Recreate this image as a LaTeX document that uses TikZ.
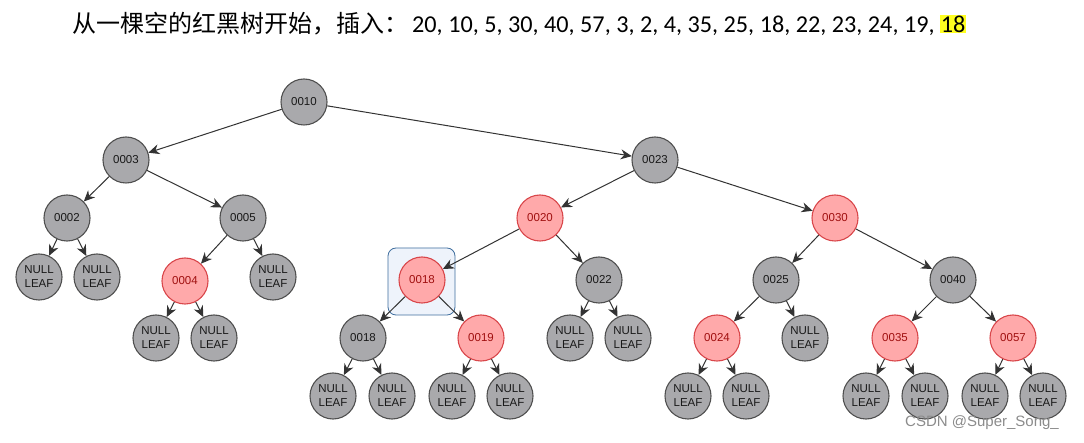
\documentclass[tikz,border=0pt]{standalone}
\usepackage{fontspec}
\setmainfont{Liberation Sans}
\newfontfamily\cjk{Noto Sans CJK SC}
\newfontfamily\numfont{Carlito}
\usetikzlibrary{arrows.meta}
\definecolor{gfill}{HTML}{A9A9AC}
\definecolor{gdraw}{HTML}{505050}
\definecolor{rfill}{HTML}{FFA9AA}
\definecolor{rdraw}{HTML}{D9474B}
\definecolor{rtext}{HTML}{A01010}
\definecolor{hlfill}{HTML}{EEF3FB}
\definecolor{hldraw}{HTML}{3F6E9E}
\definecolor{hlyel}{HTML}{FFFF20}
\begin{document}
\begin{tikzpicture}[x=1pt,y=-1pt,
  bnode/.style={circle,draw=gdraw,fill=gfill,line width=1.1pt,minimum size=46pt,inner sep=0pt,font=\fontsize{11.5}{13}\selectfont,text=black!90},
  rnode/.style={bnode,draw=rdraw,fill=rfill,text=rtext},
  leaf/.style={bnode,align=center,font=\fontsize{11.5}{14}\selectfont},
  edge/.style={draw=black!80,line width=1pt,-{Stealth[length=11pt,width=10pt]}}]
\useasboundingbox (0,0) rectangle (1084,443);
\fill[white] (0,0) rectangle (1084,443);
% title
\node[anchor=west,inner sep=0pt,font=\fontsize{24}{27}\selectfont\cjk] (t1) at (72,24) {从一棵空的红黑树开始，插入：};
\node[anchor=west,inner sep=0pt,font=\fontsize{24.2}{27}\selectfont\numfont] (t2) at (412,25) {20, 10, 5, 30, 40, 57, 3, 2, 4, 35, 25, 18, 22, 23, 24, 19, {\setlength{\fboxsep}{1pt}\colorbox{hlyel}{18}}};
% highlight box
\draw[hldraw,fill=hlfill,line width=0.8pt,rounded corners=8pt] (388,248) rectangle (455,315);
% nodes
\node[bnode] (n10) at (304,102) {0010};
\node[bnode] (n3) at (126,160) {0003};
\node[bnode] (n23) at (655,160) {0023};
\node[bnode] (n2) at (67,218) {0002};
\node[bnode] (n5) at (243,218) {0005};
\node[rnode] (n20) at (540,218) {0020};
\node[rnode] (n30) at (835,218) {0030};
\node[leaf] (l1) at (39,277) {NULL\\LEAF};
\node[leaf] (l2) at (97,277) {NULL\\LEAF};
\node[rnode] (n4) at (185,281) {0004};
\node[leaf] (l3) at (273,277) {NULL\\LEAF};
\node[leaf] (l4) at (156,338) {NULL\\LEAF};
\node[leaf] (l5) at (214,338) {NULL\\LEAF};
\node[rnode] (n18r) at (422,280) {0018};
\node[bnode] (n22) at (599,280) {0022};
\node[bnode] (n18) at (363,338) {0018};
\node[rnode] (n19) at (481,338) {0019};
\node[leaf] (l6) at (333,396) {NULL\\LEAF};
\node[leaf] (l7) at (392,396) {NULL\\LEAF};
\node[leaf] (l8) at (452,396) {NULL\\LEAF};
\node[leaf] (l9) at (510,396) {NULL\\LEAF};
\node[leaf] (l10) at (570,338) {NULL\\LEAF};
\node[leaf] (l11) at (628,338) {NULL\\LEAF};
\node[bnode] (n25) at (776,280) {0025};
\node[bnode] (n40) at (953,280) {0040};
\node[rnode] (n24) at (717,338) {0024};
\node[leaf] (l12) at (805,338) {NULL\\LEAF};
\node[leaf] (l13) at (688,396) {NULL\\LEAF};
\node[leaf] (l14) at (746,396) {NULL\\LEAF};
\node[rnode] (n35) at (895,338) {0035};
\node[rnode] (n57) at (1013,338) {0057};
\node[leaf] (l15) at (866,396) {NULL\\LEAF};
\node[leaf] (l16) at (925,396) {NULL\\LEAF};
\node[leaf] (l17) at (985,396) {NULL\\LEAF};
\node[leaf] (l18) at (1043,396) {NULL\\LEAF};
% edges
\foreach \a/\b in {n10/n3,n10/n23,n3/n2,n3/n5,n23/n20,n23/n30,n2/l1,n2/l2,n5/n4,n5/l3,n4/l4,n4/l5,
  n20/n18r,n20/n22,n18r/n18,n18r/n19,n18/l6,n18/l7,n19/l8,n19/l9,n22/l10,n22/l11,
  n30/n25,n30/n40,n25/n24,n25/l12,n24/l13,n24/l14,n40/n35,n40/n57,n35/l15,n35/l16,n57/l17,n57/l18}
  \draw[edge] (\a) -- (\b);
% watermark
\node[anchor=west,inner sep=0pt,text=black!45,font=\fontsize{15}{17}\selectfont] (wm) at (905,423) {CSDN @Super\_Song\_};
\end{tikzpicture}
\end{document}
